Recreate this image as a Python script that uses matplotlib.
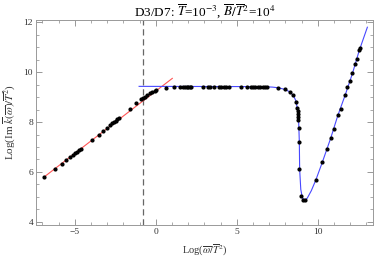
import matplotlib
matplotlib.use('Agg')
import matplotlib.pyplot as plt
from matplotlib.ticker import MultipleLocator

plt.rcParams['font.family'] = ['Liberation Serif', 'DejaVu Serif']
plt.rcParams['mathtext.fontset'] = 'stix'

# low-frequency fit (red)
red_x = [-6.91, 1.02]
red_y = [5.79, 9.75]

# numerical curve (blue)
blue_x = [-1.03, 6.5, 7.2, 7.6, 8.0, 8.3, 8.5, 8.65, 8.75, 8.82, 8.86, 8.88,
          8.95, 9.05, 9.2, 9.35, 9.6, 9.88, 10.28, 10.8, 11.23, 11.69, 12.14,
          12.55, 13.06]
blue_y = [9.43, 9.42, 9.40, 9.37, 9.30, 9.20, 9.05, 8.85, 8.5, 8.0, 7.2, 6.1,
          5.3, 4.95, 4.87, 4.95, 5.25, 5.68, 6.39, 7.36, 8.25, 9.08, 9.95,
          10.85, 11.8]

# data points
pts_x = [-6.91, -6.22, -5.80, -5.52, -5.31, -5.10, -4.96, -4.84, -4.73, -4.63,
         -3.91, -3.50, -3.25, -3.01, -2.82, -2.68, -2.58, -2.47, -2.37, -2.27,
         -1.60, -1.23, -0.91, -0.79, -0.66, -0.52, -0.37, -0.21, -0.04, 0.04,
         0.62, 1.13, 1.5, 1.7, 1.8, 1.9, 2.0, 2.1, 2.2, 2.92, 3.23, 3.33, 3.6,
         3.9, 4.05, 4.2, 4.35, 4.5, 5.28, 5.65, 5.86, 6.0, 6.15, 6.3, 6.45,
         6.6, 6.75, 6.89, 7.57, 7.98, 8.27, 8.49, 8.68, 8.74, 8.76, 8.77, 8.78,
         8.80, 8.85, 8.85, 8.87, 8.97, 9.10, 9.18, 9.88, 10.28, 10.57, 10.8,
         11.0, 11.23, 11.46, 11.69, 11.83, 11.98, 12.14, 12.28, 12.41, 12.55,
         12.61]
pts_y = [5.79, 6.13, 6.33, 6.48, 6.59, 6.68, 6.75, 6.81, 6.88, 6.93,
         7.28, 7.49, 7.64, 7.77, 7.87, 7.95, 8.00, 8.05, 8.11, 8.16,
         8.53, 8.75, 8.91, 8.96, 9.01, 9.08, 9.15, 9.20, 9.24, 9.27,
         9.36, 9.40, 9.41, 9.42, 9.42, 9.42, 9.42, 9.42, 9.42, 9.42, 9.42, 9.42, 9.42,
         9.42, 9.42, 9.42, 9.42, 9.42, 9.42, 9.42, 9.42, 9.42, 9.42, 9.42, 9.42,
         9.42, 9.42, 9.41, 9.36, 9.31, 9.20, 9.08, 8.79, 8.55, 8.45, 8.33, 8.21,
         8.08, 7.77, 7.19, 6.11, 5.04, 4.88, 4.88, 5.68, 6.39, 6.93, 7.36,
         7.73, 8.28, 8.51, 9.08, 9.41, 9.65, 9.95, 10.31, 10.51, 10.88,
         10.95]

cutoff_x = -0.77

fig = plt.figure(figsize=(3.74, 2.63), dpi=100)
ax = fig.add_axes([0.096, 0.145, 0.901, 0.78])

ax.plot(red_x, red_y, color='#ff5555', lw=0.8, zorder=2)
ax.plot(blue_x, blue_y, color='#4848ff', lw=0.8, zorder=2)
ax.plot(pts_x, pts_y, 'o', color='black', markersize=2.0, zorder=3)
ax.axvline(cutoff_x, color='#666666', lw=0.9, dashes=(5, 3), zorder=1)

ax.set_xlim(-7.4, 13.4)
ax.set_ylim(3.88, 12.1)
ax.xaxis.set_major_locator(MultipleLocator(5))
ax.xaxis.set_minor_locator(MultipleLocator(1))
ax.yaxis.set_major_locator(MultipleLocator(2))
ax.yaxis.set_minor_locator(MultipleLocator(0.5))
ax.tick_params(which='both', direction='in', top=True, right=True,
               color='#888888', labelsize=6.8, labelcolor='#333333', pad=2)
ax.tick_params(which='major', length=4, width=0.6)
ax.tick_params(which='minor', length=2, width=0.5)
for s in ax.spines.values():
    s.set_color('#999999')
    s.set_linewidth(0.7)

ax.set_title(r'D3/D7: $\overline{T}$=10$^{-3}$, $\overline{B}/\overline{T}^2$=10$^4$',
             fontsize=9.5, pad=2)
ax.set_xlabel(r'Log($\overline{\omega}/\overline{T}^2$)', fontsize=7.5, color='#333333', labelpad=5)
ax.set_ylabel(r'Log(Im $\overline{k}(\overline{\omega})/\overline{T}^2$)', fontsize=8,
              color='#333333', labelpad=4)

fig.savefig('out.png', dpi=100)
